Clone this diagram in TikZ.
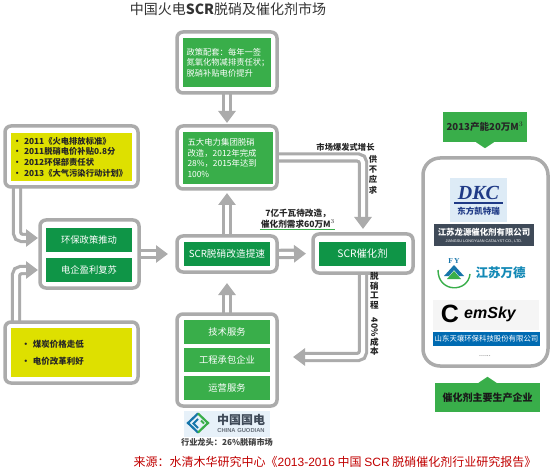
\documentclass[tikz,border=0pt]{standalone}
\usepackage{graphicx}
\usepackage{fontspec}
\usepackage{tikz}
\usetikzlibrary{arrows.meta,backgrounds}
\setmainfont{Noto Sans CJK SC}
\newfontfamily\arialface{Liberation Sans}
\newfontfamily\timesface{Liberation Serif}
\definecolor{Frame}{HTML}{ABABAB}
\definecolor{Leaf}{HTML}{39AE4A}
\definecolor{Forest}{HTML}{0F9547}
\definecolor{Lemon}{HTML}{DEE000}
\definecolor{Slate}{HTML}{3F4A58}
\definecolor{Sky}{HTML}{DDEBF6}
\definecolor{Navy}{HTML}{1F3A86}
\definecolor{Brick}{HTML}{C00000}
\tikzset{
  frame/.style={draw=Frame, line width=3.5pt, fill=white, rounded corners=6pt, inner sep=0pt, outer sep=0pt},
  panel/.style={inner sep=0pt, outer sep=0pt, font=\fontsize{9.3}{11}\selectfont, text=white},
  hollowarrow/.style={draw=Frame, line width=3.2pt, double=white, double distance=4pt, rounded corners=5pt, -{Triangle[length=12pt,width=17pt]}},
  note/.style={inner sep=0pt, outer sep=0pt, align=left, text=black!85, font=\fontsize{8.3}{10.6}\selectfont\bfseries}
}
\begin{document}
\begin{tikzpicture}[x=1pt, y=-1pt]
  \useasboundingbox (0,0) rectangle (551,470);
  \node[inner sep=0pt, font=\fontsize{14}{16}\selectfont, text=black!80] (title) at (228,9) {中国火电{\bfseries SCR}脱硝及催化剂市场};

  \node[frame, minimum width=100pt, minimum height=61pt] (policy) at (227,62.5) {};
  \node[panel, fill=Leaf, minimum width=88pt, minimum height=49pt, text width=81pt, align=left, font=\fontsize{8.3}{10.6}\selectfont] (policytext) at (227,62.5) {政策配套：每年一签\\氮氧化物减排责任状；\\脱硝补贴电价提升};

  \node[frame, minimum width=100pt, minimum height=63pt] (five) at (227,157.5) {};
  \node[panel, fill=Leaf, minimum width=90pt, minimum height=52pt, text width=80pt, align=left, font=\fontsize{8.4}{10.6}\selectfont] (fivetext) at (227.5,158) {五大电力集团脱硝\\改造，2012年完成\\28\%，2015年达到\\100\%};

  \node[frame, minimum width=133pt, minimum height=61pt] (laws) at (71.5,156.5) {};
  \node[note, fill=Lemon, minimum width=121pt, minimum height=48pt, text width=117pt] (lawstext) at (71.5,157) {\textbullet\ 2011《火电排放标准》\\\textbullet\ 2011脱硝电价补贴0.8分\\\textbullet\ 2012环保部责任状\\\textbullet\ 2013《大气污染行动计划》};

  \node[frame, minimum width=99pt, minimum height=68pt] (drivers) at (89.5,254) {};
  \node[panel, fill=Forest, minimum width=86pt, minimum height=24pt] (drivertop) at (89,240) {环保政策推动};
  \node[panel, fill=Forest, minimum width=86pt, minimum height=24pt] (driverlow) at (89,270) {电企盈利复苏};

  \node[frame, minimum width=100pt, minimum height=36pt] (retrofit) at (227,254) {};
  \node[panel, fill=Forest, minimum width=86pt, minimum height=24pt, font=\fontsize{9.7}{11}\selectfont] (retrofittext) at (227,254) {SCR脱硝改造提速};

  \node[frame, minimum width=100pt, minimum height=39pt] (catalyst) at (363,253.5) {};
  \node[panel, fill=Forest, minimum width=87pt, minimum height=24pt, font=\fontsize{10.3}{11}\selectfont] (catalysttext) at (362.5,254) {SCR催化剂};

  \node[frame, minimum width=133pt, minimum height=61pt] (coal) at (71.5,352.5) {};
  \node[note, fill=Lemon, minimum width=121pt, minimum height=49pt, text width=100pt, font=\fontsize{8.5}{17}\selectfont\bfseries] (coaltext) at (71.5,352.5) {\textbullet\ 煤炭价格走低\\\textbullet\ 电价改革利好};

  \node[frame, minimum width=100pt, minimum height=92pt] (services) at (227,360) {};
  \node[panel, fill=Leaf, minimum width=86pt, minimum height=24pt] (techservice) at (227,332) {技术服务};
  \node[panel, fill=Leaf, minimum width=86pt, minimum height=24pt] (contractor) at (227,360) {工程承包企业};
  \node[panel, fill=Leaf, minimum width=86pt, minimum height=24pt] (operation) at (227,388) {运营服务};

  \coordinate (lawsout) at (17,187);
  \coordinate (driversupper) at (38,238);
  \coordinate (coalout) at (16,322);
  \coordinate (driverslower) at (38,270);
  \coordinate (servicesin) at (277,357);

  \begin{scope}[on background layer]
    \draw[hollowarrow, shorten >=3pt] (policy.south) -- (five.north);
    \draw[hollowarrow, shorten >=4pt] (retrofit.north) -- (five.south);
    \draw[hollowarrow, shorten >=11pt] (services.north) -- (retrofit.south);
    \draw[hollowarrow, shorten >=9pt] (drivers.east) -- (retrofit.west);
    \draw[hollowarrow, shorten >=7pt] (retrofit.east) -- (catalyst.west);
    \draw[hollowarrow, shorten >=5pt] (five.east) -| (catalyst.north);
    \draw[hollowarrow, shorten >=16pt] (catalyst.south) |- (servicesin);
    \draw[hollowarrow] (lawsout) |- (driversupper);
    \draw[hollowarrow] (coalout) |- (driverslower);
  \end{scope}

  \node[inner sep=0pt, text=black!85, font=\fontsize{8.3}{9}\selectfont\bfseries] (boomlabel) at (345.5,147.5) {市场爆发式增长};
  \node[inner sep=0pt, text=black!85, align=center, font=\fontsize{8.3}{10.4}\selectfont\bfseries] (shortlabel) at (373,174.5) {供\\不\\应\\求};
  \node[inner sep=0pt, text=black!85, align=center, font=\fontsize{8.6}{11}\selectfont\bfseries] (demandlabel) at (298,218.5) {7亿千瓦待改造，\\催化剂需求60万M$^{3}$};
  \draw[Leaf, line width=1pt] (demandlabel.south west) ++(-1,1) -- ++(75,0);
  \node[inner sep=0pt, text=black!85, align=center, font=\fontsize{8.6}{9.6}\selectfont\bfseries] (costlabel) at (374.5,314) {脱\\硝\\工\\程\\\rotatebox{-90}{40\%}\\成\\本};

  \node[inner sep=0pt, minimum width=86pt, minimum height=26pt, fill=Sky!70] (guodian) at (227,424) {};
  \draw[line width=2.2pt, Navy!70!cyan] (198,413.5) -- (188,423) -- (198,432.5);
  \draw[line width=2.2pt, Leaf] (198,413.5) -- (208,423) -- (198,432.5);
  \draw[line width=2pt, Navy!70!cyan] (198,419) -- (193.5,423.5) -- (198,428);
  \draw[line width=2pt, Leaf] (201,420.5) -- (204,423.5);
  \node[inner sep=0pt, text=Slate, font=\fontsize{12}{13}\selectfont\bfseries] (guodianname) at (241,420) {中国国电};
  \node[inner sep=0pt, text=Slate!80, font=\arialface\fontsize{5.8}{6}\selectfont\bfseries] (guodianlatin) at (241,431) {CHINA GUODIAN};
  \node[inner sep=0pt, text=black!75, font=\fontsize{8.2}{10}\selectfont\bfseries] (leader) at (227,442) {行业龙头：26\%脱硝市场};

  \node[frame, rounded corners=17pt, minimum width=125pt, minimum height=208pt] (makers) at (485.5,262) {};
  \node[inner sep=0pt, minimum width=84pt, minimum height=30pt, fill=Leaf, text=black!85, font=\fontsize{9.6}{12}\selectfont\bfseries] (capacity) at (485,127) {2013产能20万M$^{3}$};
  \fill[Leaf] (capacity.south) ++(-9,0) -- ++(9,6) -- ++(9,-6) -- cycle;
  \node[inner sep=0pt, minimum width=105pt, minimum height=29pt, fill=Leaf, text=black!90, font=\fontsize{10}{12}\selectfont\bfseries] (makerslabel) at (487.5,397.5) {催化剂主要生产企业};
  \fill[Leaf] (makerslabel.north) ++(-9,0) -- ++(9,-6) -- ++(9,6) -- cycle;

  \node[inner sep=0pt, minimum width=57pt, minimum height=44pt, fill=Sky] (dkcbox) at (478.5,200) {};
  \node[inner sep=0pt, text=Navy, font=\timesface\fontsize{20}{20}\selectfont\bfseries\itshape] (dkc) at (478.5,193) {DKC};
  \draw[Navy, line width=1.4pt] (454,203) -- (503,203);
  \node[inner sep=0pt, text=Navy, font=\fontsize{8.5}{9}\selectfont\bfseries] (dkcname) at (478.5,211) {东方凯特瑞};
  \node[inner sep=0pt, minimum width=100pt, minimum height=22pt, fill=Slate] (longyuanbar) at (484,235) {};
  \node[inner sep=0pt, text=white, font=\fontsize{8.4}{9}\selectfont\bfseries] (longyuan) at (484,232) {江苏龙源催化剂有限公司};
  \node[inner sep=0pt, text=white!80, font=\arialface\fontsize{3.8}{4}\selectfont] (longyuanlatin) at (484,241) {JIANGSU LONGYUAN CATALYST CO., LTD.};

  \node[inner sep=0pt, text=Navy!70!cyan, font=\timesface\fontsize{7.5}{8}\selectfont\bfseries] (fytext) at (454,261) {F\,Y};
  \fill[Navy!70!cyan] (444,276) -- (454,265) -- (464,276) -- (459,276) -- (454,270) -- (449,276) -- cycle;
  \fill[Leaf] (447,279) -- (454,271) -- (461,279) -- cycle;
  \draw[Leaf, line width=1.4pt] (438,270) .. controls (438,293) and (468,293) .. (470,274);
  \node[inner sep=0pt, text=Navy!60!cyan, font=\fontsize{12.5}{14}\selectfont\bfseries] (wande) at (500.5,273) {江苏万德};

  \node[inner sep=0pt, minimum width=106pt, minimum height=30pt, fill=black!4] (cemskybox) at (486,315) {};
  \node[inner sep=0pt, text=black, font=\arialface\fontsize{25}{25}\selectfont\bfseries] (cemskyc) at (450,314) {C};
  \node[inner sep=0pt, text=black, font=\arialface\fontsize{16}{16}\selectfont\bfseries\itshape] (cemsky) at (490,314) {emSky};
  \node[inner sep=0pt, minimum width=107pt, minimum height=14pt, fill=blue!40!cyan!70!black] (tianbar) at (486.5,339) {};
  \node[inner sep=0pt, text=white, font=\fontsize{7.4}{8}\selectfont] (tianname) at (486.5,339) {山东天壤环保科技股份有限公司};
  \node[inner sep=0pt, text=black!70, font=\fontsize{7}{8}\selectfont] (moremakers) at (485,356) {......};

  \node[inner sep=0pt, text=Brick, font=\fontsize{12}{14}\selectfont] (source) at (335,462) {来源：水清木华研究中心《{\arialface 2013-2016} 中国 {\arialface SCR} 脱硝催化剂行业研究报告》};
\end{tikzpicture}
\end{document}
